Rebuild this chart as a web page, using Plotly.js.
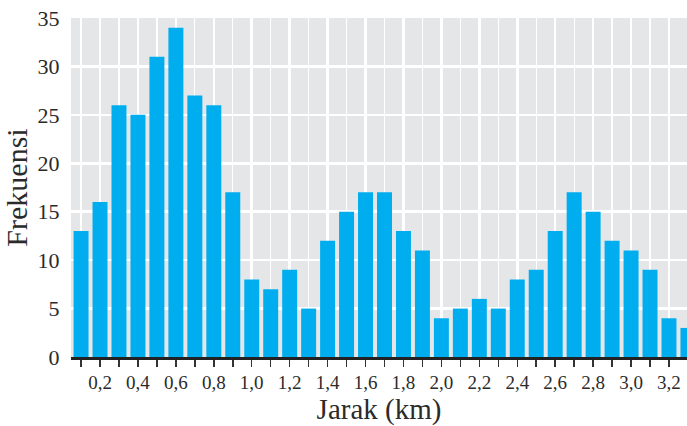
<!DOCTYPE html>
<html><head><meta charset="utf-8">
<script src="https://cdn.plot.ly/plotly-3.0.1.min.js"></script>
<style>body{margin:0;padding:0;background:#fff}#chart{width:687px;height:426px}</style>
</head><body><div id="chart"></div>
<script>
const distances = [0.1,0.2,0.3,0.4,0.5,0.6,0.7,0.8,0.9,1.0,1.1,1.2,1.3,1.4,1.5,1.6,1.7,1.8,1.9,2.0,2.1,2.2,2.3,2.4,2.5,2.6,2.7,2.8,2.9,3.0,3.1,3.2,3.3];
const frequencies = [13,16,26,25,31,34,27,26,17,8,7,9,5,12,15,17,17,13,11,4,5,6,5,8,9,13,17,15,12,11,9,4,3];
const xTitle = 'Jarak (km)';
const yTitle = 'Frekuensi';

const fontFam = '"Liberation Serif", serif';
const trace = {
  type: 'bar', x: distances, y: frequencies,
  marker: {color: '#00aeef', line: {width: 0}},
  hoverinfo: 'skip'
};
const layout = {
  width: 687, height: 426,
  margin: {l: 71, r: 0, t: 18, b: 69},
  paper_bgcolor: '#ffffff', plot_bgcolor: '#e5e6e8',
  separators: ',.',
  showlegend: false,
  bargap: 0.21,
  font: {family: fontFam, color: '#2b2b2b'},
  xaxis: {
    range: [0.047, 3.295], tick0: 0, dtick: 0.2, tickformat: '.1f',
    ticks: 'outside', ticklen: 7, tickwidth: 1.5, tickcolor: '#333',
    showline: true, linecolor: '#222', linewidth: 2.5,
    showgrid: true, gridcolor: '#ffffff', gridwidth: 2.5,
    zeroline: false,
    tickfont: {size: 19, family: fontFam, color: '#2b2b2b'},
    minor: {tick0: 0, dtick: 0.1, ticks: 'outside', ticklen: 7, tickwidth: 1.5, tickcolor: '#333', showgrid: true, gridcolor: '#ffffff', gridwidth: 1.2},
    title: {text: xTitle, font: {size: 29, family: fontFam, color: '#2b2b2b'}, standoff: 10},
    automargin: false
  },
  yaxis: {
    range: [0, 35], tick0: 0, dtick: 5,
    ticks: 'outside', ticklen: 6, tickcolor: 'rgba(0,0,0,0)',
    showline: false, zeroline: false,
    showgrid: true, gridcolor: '#ffffff', gridwidth: 2.5,
    tickfont: {size: 22, family: fontFam, color: '#2b2b2b'},
    title: {text: yTitle, font: {size: 30, family: fontFam, color: '#2b2b2b'}, standoff: 8},
    automargin: false
  }
};
Plotly.newPlot('chart', [trace], layout, {displayModeBar: false, staticPlot: true});
</script></body></html>
